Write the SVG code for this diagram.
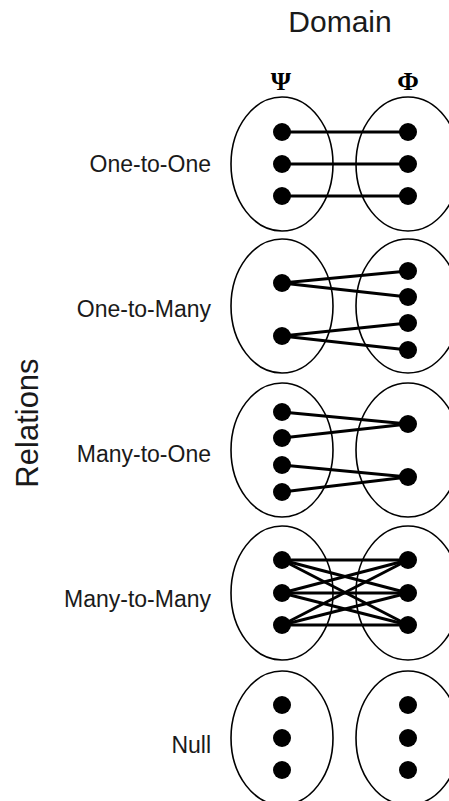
<svg xmlns="http://www.w3.org/2000/svg" width="449" height="801" viewBox="0 0 449 801">
<style>
.set{fill:none;stroke:#000;stroke-width:1.6}
.dot{fill:#000}
.ln{stroke:#000;stroke-width:3;fill:none}
.lab{font-family:"Liberation Sans",Arial,sans-serif;font-size:23px;fill:#1a1a1a;text-anchor:end}
.ttl{font-family:"Liberation Sans",Arial,sans-serif;font-size:30px;fill:#1a1a1a;text-anchor:middle}
.grk{font-family:"Liberation Serif","Times New Roman",serif;font-size:26px;font-weight:bold;fill:#000;text-anchor:middle}
</style>
<rect width="449" height="801" fill="#fff"/>
<text class="ttl" x="340" y="32">Domain</text>
<text class="grk" x="281" y="90">Ψ</text>
<text class="grk" x="408" y="90">Φ</text>
<text class="ttl" transform="translate(38,423) rotate(-90)" style="font-size:31px">Relations</text>

<g id="labels">
<text class="lab" x="211" y="172">One-to-One</text>
<text class="lab" x="211" y="317">One-to-Many</text>
<text class="lab" x="211" y="462">Many-to-One</text>
<text class="lab" x="211" y="607">Many-to-Many</text>
<text class="lab" x="211" y="753">Null</text>
</g>

<g id="sets">
<ellipse class="set" cx="282" cy="164" rx="51" ry="67"/>
<ellipse class="set" cx="408" cy="164" rx="52" ry="67"/>
<ellipse class="set" cx="282" cy="306" rx="51" ry="67"/>
<ellipse class="set" cx="408" cy="306" rx="52" ry="67"/>
<ellipse class="set" cx="282" cy="450" rx="51" ry="67"/>
<ellipse class="set" cx="408" cy="450" rx="52" ry="67"/>
<ellipse class="set" cx="282" cy="593" rx="51" ry="67"/>
<ellipse class="set" cx="408" cy="593" rx="52" ry="67"/>
<ellipse class="set" cx="282" cy="738" rx="51" ry="67"/>
<ellipse class="set" cx="408" cy="738" rx="52" ry="67"/>
</g>

<g id="connectors">
<line class="ln" x1="282" y1="132" x2="408" y2="132"/>
<line class="ln" x1="282" y1="164" x2="408" y2="164"/>
<line class="ln" x1="282" y1="196" x2="408" y2="196"/>

<line class="ln" x1="282" y1="283" x2="408" y2="271"/>
<line class="ln" x1="282" y1="283" x2="408" y2="297"/>
<line class="ln" x1="282" y1="336" x2="408" y2="323"/>
<line class="ln" x1="282" y1="336" x2="408" y2="350"/>

<line class="ln" x1="282" y1="412" x2="408" y2="424"/>
<line class="ln" x1="282" y1="438" x2="408" y2="424"/>
<line class="ln" x1="282" y1="465" x2="408" y2="477"/>
<line class="ln" x1="282" y1="492" x2="408" y2="477"/>

<line class="ln" x1="282" y1="560" x2="408" y2="560"/>
<line class="ln" x1="282" y1="560" x2="408" y2="593"/>
<line class="ln" x1="282" y1="560" x2="408" y2="625"/>
<line class="ln" x1="282" y1="593" x2="408" y2="560"/>
<line class="ln" x1="282" y1="593" x2="408" y2="593"/>
<line class="ln" x1="282" y1="593" x2="408" y2="625"/>
<line class="ln" x1="282" y1="625" x2="408" y2="560"/>
<line class="ln" x1="282" y1="625" x2="408" y2="593"/>
<line class="ln" x1="282" y1="625" x2="408" y2="625"/>
</g>

<g id="row1">
<circle class="dot" cx="282" cy="132" r="9"/><circle class="dot" cx="282" cy="164" r="9"/><circle class="dot" cx="282" cy="196" r="9"/>
<circle class="dot" cx="408" cy="132" r="9"/><circle class="dot" cx="408" cy="164" r="9"/><circle class="dot" cx="408" cy="196" r="9"/>
</g>
<g id="row2">
<circle class="dot" cx="282" cy="283" r="9"/><circle class="dot" cx="282" cy="336" r="9"/>
<circle class="dot" cx="408" cy="271" r="9"/><circle class="dot" cx="408" cy="297" r="9"/><circle class="dot" cx="408" cy="323" r="9"/><circle class="dot" cx="408" cy="350" r="9"/>
</g>
<g id="row3">
<circle class="dot" cx="282" cy="412" r="9"/><circle class="dot" cx="282" cy="438" r="9"/><circle class="dot" cx="282" cy="465" r="9"/><circle class="dot" cx="282" cy="492" r="9"/>
<circle class="dot" cx="408" cy="424" r="9"/><circle class="dot" cx="408" cy="477" r="9"/>
</g>
<g id="row4">
<circle class="dot" cx="282" cy="560" r="9"/><circle class="dot" cx="282" cy="593" r="9"/><circle class="dot" cx="282" cy="625" r="9"/>
<circle class="dot" cx="408" cy="560" r="9"/><circle class="dot" cx="408" cy="593" r="9"/><circle class="dot" cx="408" cy="625" r="9"/>
</g>
<g id="row5">
<circle class="dot" cx="282" cy="705" r="9"/><circle class="dot" cx="282" cy="738" r="9"/><circle class="dot" cx="282" cy="770" r="9"/>
<circle class="dot" cx="408" cy="705" r="9"/><circle class="dot" cx="408" cy="738" r="9"/><circle class="dot" cx="408" cy="770" r="9"/>
</g>
</svg>
